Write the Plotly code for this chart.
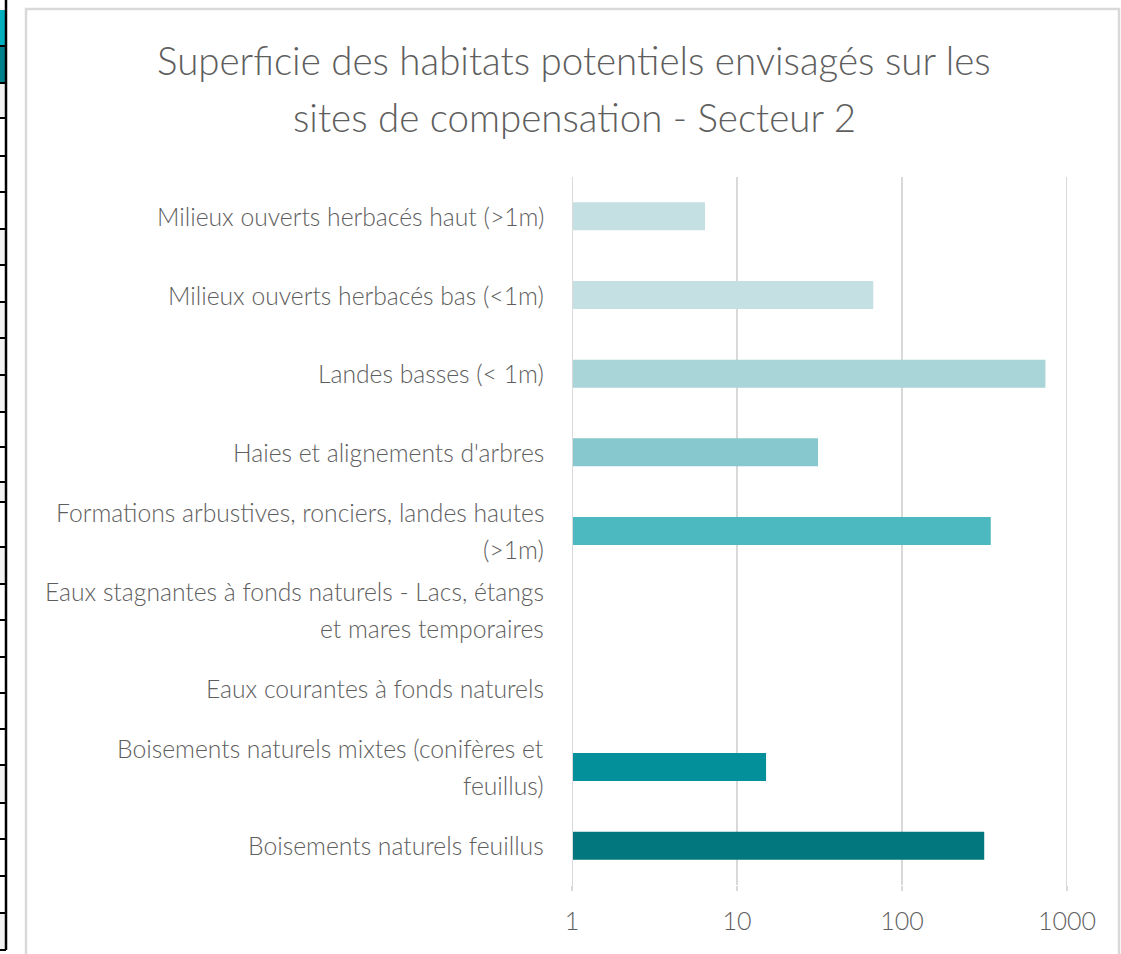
import plotly.graph_objects as go

# Habitat categories (top to bottom) and potential areas (log scale)
categories = [
    "Milieux ouverts herbacés haut (>1m)",
    "Milieux ouverts herbacés bas (<1m)",
    "Landes basses (< 1m)",
    "Haies et alignements d'arbres",
    "Formations arbustives, ronciers, landes hautes\n(>1m)",
    "Eaux stagnantes à fonds naturels - Lacs, étangs\net mares temporaires",
    "Eaux courantes à fonds naturels",
    "Boisements naturels mixtes (conifères et\nfeuillus)",
    "Boisements naturels feuillus",
]
values = [6.4, 67, 740, 31, 345, None, None, 15, 315]
bar_colors = ["#C5E0E3", "#C5E0E3", "#A9D4D8", "#86C8CD", "#4CB8BF",
              "#4CB8BF", "#1AA0A8", "#03909A", "#02777E"]

tick_vals = [1, 10, 100, 1000]
tick_text = ["1", "10", "100", "1000"]

title_lines = ["Superficie des habitats potentiels envisagés sur les",
               "sites de compensation - Secteur 2"]

W, H = 1121, 954
FONT = "Lato"
TXT = "#5E5E5E"
GRID = "#D9D9D9"

fig = go.Figure()
fig.add_trace(go.Bar(
    y=categories, x=values, orientation="h",
    marker=dict(color=bar_colors, line=dict(width=0)),
    hoverinfo="x+y",
))

def px(x):
    return x / W

def py(y):
    return 1 - y / H

x_dom = [px(572), px(1067)]
y_dom = [py(885), py(177)]

annotations = []
# Title, two lines
for i, line in enumerate(title_lines):
    annotations.append(dict(
        text=line, xref="paper", yref="paper", x=px(574), y=py(60 + 57 * i),
        xanchor="center", yanchor="middle", showarrow=False,
        font=dict(family=FONT, size=38.5, color=TXT, weight=300),
    ))

# Category labels, wrapped lines right-aligned
for cat in categories:
    parts = cat.split("\n")
    n = len(parts)
    for j, part in enumerate(parts):
        annotations.append(dict(
            text=part, xref="paper", yref="y", x=px(546), y=cat,
            xanchor="right", yanchor="middle", showarrow=False,
            yshift=(n - 1) * 18.5 - j * 37,
            font=dict(family=FONT, size=24.7, color=TXT, weight=300),
        ))

shapes = []
# Gridlines at the two ends of the log axis (plotly skips them at the range edges);
# the left one stays visible over the bar bases
for v, layer in ((tick_vals[0], "above"), (tick_vals[-1], "below")):
    shapes.append(dict(type="line", xref="x", yref="paper",
                       x0=v, x1=v, y0=py(889), y1=py(177),
                       line=dict(color=GRID, width=2), layer=layer))

# Chart frame
shapes.append(dict(type="rect", xref="paper", yref="paper",
                   x0=px(26), x1=px(1119), y0=py(958), y1=py(9),
                   line=dict(color=GRID, width=2.5), fillcolor="rgba(0,0,0,0)"))

# Spreadsheet column strip at left edge
row_edges = [10, 46, 83, 118, 156, 192, 229, 265, 302, 338, 375, 412, 447,
             482, 502, 547, 584, 620, 657, 693, 729, 765, 803, 839, 876, 913, 950]
row_fills = {0: "#00B0BE", 1: "#00818A", 2: "#F2F2F2", 6: "#F2F2F2",
             8: "#F2F2F2", 9: "#F2F2F2", 10: "#F2F2F2", 13: "#F2F2F2",
             15: "#F2F2F2", 21: "#F2F2F2", 25: "#F2F2F2"}
for k in range(len(row_edges) - 1):
    fill = row_fills.get(k, "#FFFFFF")
    shapes.append(dict(type="rect", xref="paper", yref="paper",
                       x0=0, x1=px(6), y0=py(row_edges[k + 1]), y1=py(row_edges[k]),
                       line=dict(width=0), fillcolor=fill, layer="above"))
for e in row_edges[1:]:
    shapes.append(dict(type="line", xref="paper", yref="paper",
                       x0=0, x1=px(6), y0=py(e), y1=py(e),
                       line=dict(color="#000000", width=2)))
shapes.append(dict(type="line", xref="paper", yref="paper",
                   x0=px(6), x1=px(6), y0=py(0), y1=py(950),
                   line=dict(color="#000000", width=2.5)))

fig.update_layout(
    width=W, height=H,
    margin=dict(l=0, r=0, t=0, b=0, autoexpand=False),
    paper_bgcolor="white", plot_bgcolor="white",
    showlegend=False,
    bargap=0.645,
    annotations=annotations,
    shapes=shapes,
    xaxis=dict(
        type="log", range=[0, 3], domain=x_dom, automargin=False,
        tickvals=tick_vals, ticktext=tick_text,
        showgrid=True, gridcolor=GRID, gridwidth=2,
        ticks="outside", ticklen=5, tickcolor=GRID, tickwidth=2,
        ticklabelstandoff=9,
        showline=False, zeroline=False,
        tickfont=dict(family=FONT, size=25, color=TXT, weight=300),
        fixedrange=True,
    ),
    yaxis=dict(
        type="category", domain=y_dom, autorange="reversed", automargin=False,
        showticklabels=False, showgrid=False, showline=False,
        zeroline=False, ticks="", fixedrange=True,
    ),
)

fig.write_html("out.html")
